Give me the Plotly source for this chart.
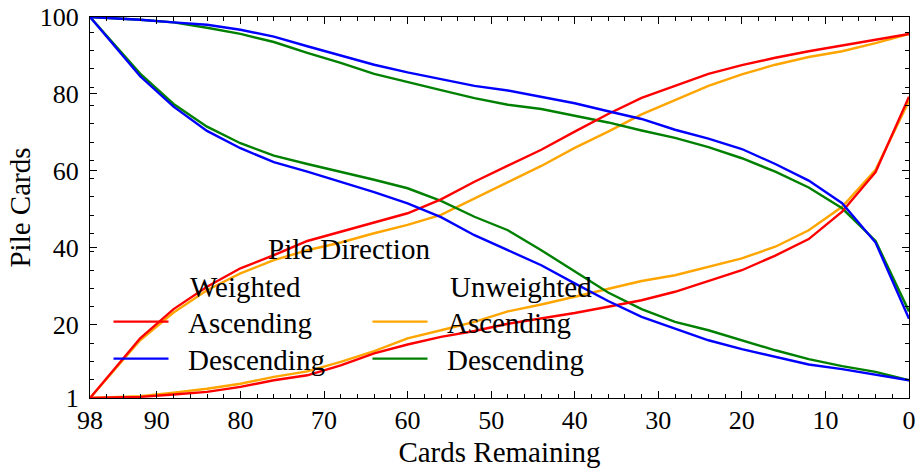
import plotly.graph_objects as go

# Cards remaining at each sample
x_vals = [98, 92, 88, 84, 80, 76, 72, 68, 64, 60, 56, 52, 48,
          44, 40, 36, 32, 28, 24, 20, 16, 12, 8, 4, 0]

# Weighted, Ascending (two piles)
w_asc_1 = [1, 16.5, 24.1, 29.9, 34.7, 38.1, 41.8, 44.2, 46.4, 49.0, 52.6, 57.2, 61.4,
           65.5, 70.2, 74.8, 79.0, 82.0, 85.2, 87.5, 89.4, 91.1, 92.6, 94.1, 95.6]
w_asc_2 = [1, 1.3, 1.9, 2.6, 3.9, 5.6, 6.9, 9.5, 12.6, 14.9, 16.9, 18.4, 20.3,
           21.7, 23.1, 24.7, 26.4, 28.6, 31.3, 34.2, 38.0, 42.3, 49.4, 59.7, 79.3]
# Weighted, Descending
w_desc_1 = [100, 99.3, 98.6, 98.0, 96.7, 94.9, 92.4, 90.0, 87.6, 85.6, 83.9, 82.1, 80.9,
            79.3, 77.6, 75.5, 73.5, 70.7, 68.4, 65.7, 61.8, 57.5, 51.6, 41.4, 21.6]
w_desc_2 = [100, 84.6, 76.7, 70.4, 65.9, 62.3, 59.8, 57.2, 54.5, 51.6, 48.0, 43.3, 39.5,
            35.5, 30.8, 26.2, 22.1, 19.1, 16.0, 13.7, 11.7, 9.7, 8.5, 7.1, 5.6]
# Unweighted, Ascending
u_asc_1 = [1, 16.0, 23.2, 29.0, 33.4, 36.8, 39.4, 41.4, 43.8, 46.0, 48.6, 52.9, 57.0,
           61.3, 66.0, 70.2, 74.7, 78.3, 82.1, 85.1, 87.6, 89.6, 91.1, 93.2, 95.6]
u_asc_2 = [1, 1.5, 2.4, 3.4, 4.7, 6.5, 7.9, 10.4, 13.2, 16.5, 18.6, 20.8, 23.5,
           25.3, 27.3, 29.3, 31.4, 32.9, 35.0, 37.3, 40.3, 44.6, 50.7, 60.3, 78.2]
# Unweighted, Descending
u_desc_1 = [100, 99.3, 98.6, 97.2, 95.6, 93.5, 90.7, 88.1, 85.2, 83.0, 81.0, 78.9, 77.2,
            76.1, 74.3, 72.6, 70.5, 68.6, 66.2, 63.3, 59.8, 55.7, 50.3, 41.8, 23.5]
u_desc_2 = [100, 85.3, 77.4, 71.5, 67.2, 64.0, 61.8, 59.8, 57.7, 55.5, 52.2, 48.1, 44.6,
            39.4, 33.8, 28.4, 24.1, 20.8, 18.6, 16.0, 13.4, 11.1, 9.3, 7.8, 5.6]

x_ticks = [98, 90, 80, 70, 60, 50, 40, 30, 20, 10, 0]
x_minor = [96, 94, 92, 88, 86, 84, 82, 78, 76, 74, 72, 68, 66, 64, 62, 58, 56, 54, 52,
           48, 46, 44, 42, 38, 36, 34, 32, 28, 26, 24, 22, 18, 16, 14, 12, 8, 6, 4, 2]
y_ticks = [1, 20, 40, 60, 80, 100]
y_minor = [5.75, 10.5, 15.25, 24.75, 29.5, 34.25, 39, 43.75, 48.5, 53.25, 58, 62.75,
           67.5, 72.25, 77, 81.75, 86.5, 91.25, 96]

FONT = "Liberation Serif"

# plot-area geometry (pixels) used to place legend pieces
PL, PW, PT, PH = 90, 819, 17, 381
PB = PT + PH


def px_x(px):
    return (px - PL) / PW


def px_y(py):
    return (PB - py) / PH


def joined(a, b):
    return x_vals + [None] + x_vals, a + [None] + b


NB = "\u00a0\u00a0"
fig = go.Figure()
series = [
    ("Ascending", u_asc_1, u_asc_2, "#FFA500", "legend3"),
    ("Descending", u_desc_1, u_desc_2, "#008000", "legend4"),
    ("Ascending", w_asc_1, w_asc_2, "#FF0000", "legend"),
    ("Descending", w_desc_1, w_desc_2, "#0000FF", "legend2"),
]
for name, a, b, color, leg in series:
    xs, ys = joined(a, b)
    fig.add_trace(go.Scatter(x=xs, y=ys, mode="lines", name=NB + name,
                             line=dict(color=color, width=2.4),
                             connectgaps=False, legend=leg, showlegend=True))

axis_common = dict(
    showline=True, linecolor="black", linewidth=1, mirror="ticks",
    ticks="inside", ticklen=7, tickwidth=1, tickcolor="black",
    showgrid=False, zeroline=False, automargin=False,
    tickfont=dict(family=FONT, size=26, color="black"),
)


def leg(px, py):
    return dict(x=px_x(px), y=px_y(py), xanchor="left", yanchor="top",
                bgcolor="rgba(0,0,0,0)", itemwidth=55,
                font=dict(family=FONT, size=29, color="black"))


fig.update_layout(
    width=917, height=468,
    showlegend=True,
    hovermode=False,
    margin=dict(l=PL, r=917 - PL - PW, t=PT, b=468 - PB),
    paper_bgcolor="white", plot_bgcolor="white",
    font=dict(family=FONT, size=29, color="black"),
    xaxis=dict(range=[98, 0], tickmode="array", tickvals=x_ticks,
               ticktext=[str(v) for v in x_ticks], ticklabelstandoff=-1,
               minor=dict(tickmode="array", tickvals=x_minor, ticks="inside",
                          ticklen=4, tickcolor="black", showgrid=False),
               title=dict(text="Cards Remaining", font=dict(family=FONT, size=29),
                          standoff=7),
               **axis_common),
    yaxis=dict(range=[1, 100], tickmode="array", tickvals=y_ticks,
               ticktext=[str(v) for v in y_ticks], ticklabelstandoff=5,
               minor=dict(tickmode="array", tickvals=y_minor, ticks="inside",
                          ticklen=4, tickcolor="black", showgrid=False),
               title=dict(text="Pile Cards", font=dict(family=FONT, size=29),
                          standoff=0),
               **axis_common),
    legend=leg(108.5, 322.3 - 26),
    legend2=leg(108.5, 359.3 - 26),
    legend3=leg(367.5, 322.3 - 26),
    legend4=leg(367.5, 359.3 - 26),
)

for text, px, py, anchor in [("Pile Direction", 349, 249, "center"),
                             ("Weighted", 188, 287, "left"),
                             ("Unweighted", 448, 287, "left")]:
    fig.add_annotation(text=text, x=px_x(px), y=px_y(py), xref="paper", yref="paper",
                       xanchor=anchor, yanchor="middle", showarrow=False,
                       font=dict(family=FONT, size=29, color="black"))

fig.write_html("out.html", config={"displayModeBar": False},
               post_script="document.body.style.margin='0';")
